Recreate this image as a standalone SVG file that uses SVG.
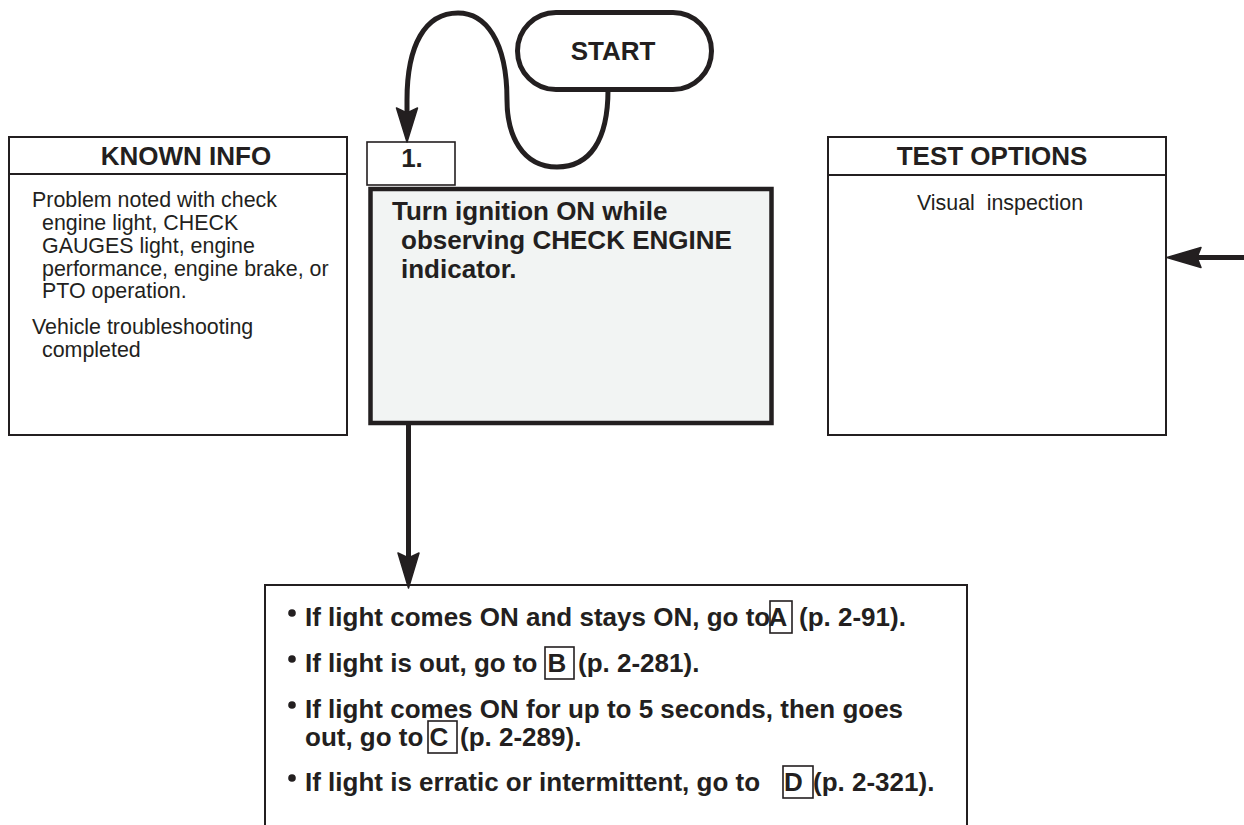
<svg xmlns="http://www.w3.org/2000/svg" width="1244" height="825" viewBox="0 0 1244 825">
<style>
text{font-family:"Liberation Sans",Arial,sans-serif;fill:#231f20}
.b{font-weight:bold;font-size:26px}
.r{font-size:21.4px}
.box{fill:#fff;stroke:#231f20;stroke-width:2}
.thin{fill:none;stroke:#231f20;stroke-width:1.6}
.conn{fill:none;stroke:#231f20;stroke-width:5}
.head{fill:#231f20;stroke:#231f20;stroke-width:1.5;stroke-linejoin:round}
</style>
<rect width="1244" height="825" fill="#fff"/>
<g id="start">
<rect x="517.5" y="12.5" width="194" height="77" rx="38.5" fill="#fff" stroke="#231f20" stroke-width="5"/>
<text class="b" x="613" y="60" text-anchor="middle">START</text>
</g>
<g id="known-info">
<rect class="box" x="9" y="137" width="338" height="298"/>
<line x1="9" y1="174" x2="347" y2="174" stroke="#231f20" stroke-width="2"/>
<text class="b" x="186" y="165" text-anchor="middle">KNOWN INFO</text>
<text class="r">
<tspan x="32" y="207">Problem noted with check</tspan>
<tspan x="42" y="230">engine light, CHECK</tspan>
<tspan x="42" y="253">GAUGES light, engine</tspan>
<tspan x="42" y="276">performance, engine brake, or</tspan>
<tspan x="42" y="298">PTO operation.</tspan>
<tspan x="32" y="334">Vehicle troubleshooting</tspan>
<tspan x="42" y="357">completed</tspan>
</text>
</g>
<g id="test-options">
<rect class="box" x="828" y="137" width="338" height="298"/>
<line x1="828" y1="175" x2="1166" y2="175" stroke="#231f20" stroke-width="2"/>
<text class="b" x="992" y="165" text-anchor="middle">TEST OPTIONS</text>
<text class="r" x="1000" y="210" text-anchor="middle">Visual&#160; inspection</text>
</g>
<g id="step1">
<rect x="367" y="142" width="88" height="43" fill="#fff" stroke="#231f20" stroke-width="1.6"/>
<text class="b" x="412" y="167" text-anchor="middle">1.</text>
<rect x="370.5" y="189" width="401" height="234" fill="#f2f4f3" stroke="#231f20" stroke-width="4.5"/>
<text class="b">
<tspan x="392" y="220">Turn ignition ON while</tspan>
<tspan x="401" y="249">observing CHECK ENGINE</tspan>
<tspan x="401" y="278">indicator.</tspan>
</text>
</g>
<g id="results">
<path d="M265 827 V585 H967 V827" fill="#fff" stroke="#231f20" stroke-width="2"/>
<g fill="#231f20">
<circle cx="292" cy="613" r="3.8"/>
<circle cx="292" cy="659" r="3.8"/>
<circle cx="292" cy="705" r="3.8"/>
<circle cx="292" cy="778" r="3.8"/>
</g>
<text class="b">
<tspan x="305" y="626">If light comes ON and stays ON, go to</tspan>
<tspan x="781" y="626" text-anchor="middle">A</tspan>
<tspan x="799" y="626">(p. 2-91).</tspan>
</text>
<rect class="thin" x="770" y="601" width="22" height="32"/>
<text class="b">
<tspan x="305" y="672">If light is out, go to</tspan>
<tspan x="560.5" y="672" text-anchor="middle">B</tspan>
<tspan x="578" y="672">(p. 2-281).</tspan>
</text>
<rect class="thin" x="545" y="647" width="29" height="32"/>
<text class="b">
<tspan x="305" y="718">If light comes ON for up to 5 seconds, then goes</tspan>
<tspan x="305" y="746">out, go to</tspan>
<tspan x="442.5" y="746" text-anchor="middle">C</tspan>
<tspan x="460" y="746">(p. 2-289).</tspan>
</text>
<rect class="thin" x="428" y="721" width="29" height="32"/>
<text class="b">
<tspan x="305" y="791">If light is erratic or intermittent, go to</tspan>
<tspan x="797" y="791" text-anchor="middle">D</tspan>
<tspan x="813" y="791">(p. 2-321).</tspan>
</text>
<rect class="thin" x="783" y="766" width="30" height="32"/>
</g>
<g id="connectors">
<path class="conn" d="M608 90 C608 140 590 167 557 167 C522 167 507 135 507 100 C507 40 485 13 458 13 C425 13 407 45 407 100 L407 114"/>
<path class="head" d="M407 142 L396.5 108 L407 113 L417.5 108 Z"/>
<line class="conn" x1="408.5" y1="423" x2="408.5" y2="560"/>
<path class="head" d="M408.5 588 L398 553 L408.5 558 L419 553 Z"/>
<line class="conn" x1="1244" y1="257.5" x2="1195" y2="257.5"/>
<path class="head" d="M1167 257.5 L1201 247.5 L1197 257.5 L1201 267.5 Z"/>
</g>
</svg>
